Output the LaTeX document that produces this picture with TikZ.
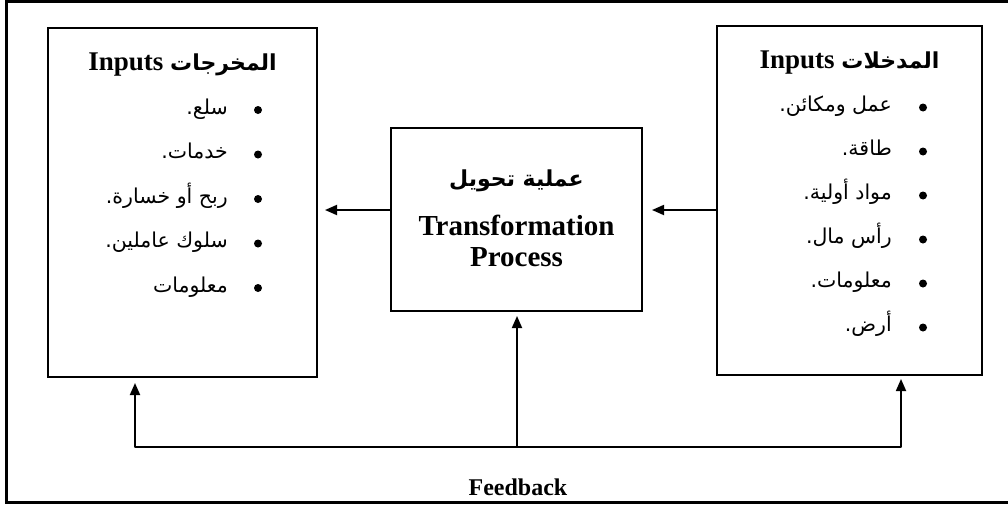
\documentclass[tikz,border=0pt]{standalone}
\usepackage{fontspec}
\setmainfont{Liberation Serif}
\newfontfamily\arabicfont[Script=Arabic]{DejaVu Sans}
\TeXXeTstate=1
\usetikzlibrary{arrows.meta}
% right-to-left Arabic run
\newcommand\artext[1]{{\arabicfont\beginR #1\endR}}

\begin{document}
\begin{tikzpicture}[x=1pt,y=-1pt,
  box/.style={draw, line width=2pt, inner sep=0pt},
  link/.style={line width=1.8pt, -{Triangle[length=12pt,width=10pt]}},
  wire/.style={line width=1.8pt},
  title/.style={font=\bfseries\fontsize{27}{30}\selectfont, inner sep=0pt},
  artitle/.style={font=\bfseries\fontsize{22}{26}\selectfont},
  item/.style={font=\fontsize{20.5}{24}\selectfont, anchor=east, inner sep=0pt,
    text height=14pt, text depth=6pt},
  dot/.style={circle, fill, inner sep=0pt, minimum size=8pt}]
\useasboundingbox (0,0) rectangle (1008,504);

% page frame, open on the right
\draw[line width=3pt] (1008,1.5) -- (6,1.5) -- (6,502) -- (1008,502);

% the three blocks
\node[box, minimum width=269pt, minimum height=349pt] (out) at (182.5,202.5) {};
\node[box, minimum width=265pt, minimum height=349pt] (in)  at (849.5,200.5) {};
\node[box, minimum width=251pt, minimum height=183pt] (mid) at (516.5,219.5) {};

% block titles
\node[title] (outT) at (182.5,65) {Inputs \artext{\fontsize{22}{26}\selectfont المخرجات}};
\node[title] (inT)  at (849.5,63) {Inputs \artext{\fontsize{22}{26}\selectfont المدخلات}};
\node[artitle, inner sep=0pt] (midA) at (516.5,181) {\artext{عملية تحويل}};
\node[font=\bfseries\fontsize{29}{31}\selectfont, align=center, inner sep=0pt] (midT) at (516.5,241) {Transformation\\Process};

% output items
\foreach \t [count=\i] in {سلع., خدمات., ربح أو خسارة., سلوك عاملين., معلومات}{
  \node[item] (o\i) at (228,{65.5+44.5*\i}) {\artext{\t}};
  \node[dot] (od\i) at (258,{65.5+44.5*\i}) {};
}
% input items
\foreach \t [count=\i] in {عمل ومكائن., طاقة., مواد أولية., رأس مال., معلومات., أرض.}{
  \node[item] (n\i) at (892,{63.5+44*\i}) {\artext{\t}};
  \node[dot] (nd\i) at (923,{63.5+44*\i}) {};
}

% forward flow
\coordinate (hy) at (0,210);
\draw[link, shorten >=9pt] (in.west |- hy) -- (mid.east |- hy);
\draw[link, shorten >=7pt] (mid.west |- hy) -- (out.east |- hy);

% feedback loop
\coordinate (fbM) at (517,447);
\coordinate (fbL) at (135,447);
\coordinate (fbR) at (901,447);
\draw[wire, line cap=round] (fbL) -- (fbR);
\draw[link, shorten >=4pt] (fbM) -- (fbM |- mid.south);
\draw[link, shorten >=5pt] (fbL) -- (fbL |- out.south);
\draw[link, shorten >=3pt] (fbR) -- (fbR |- in.south);
\node[font=\bfseries\fontsize{24}{28}\selectfont, inner sep=0pt] (fbT) at (518,487) {Feedback};
\end{tikzpicture}
\end{document}
